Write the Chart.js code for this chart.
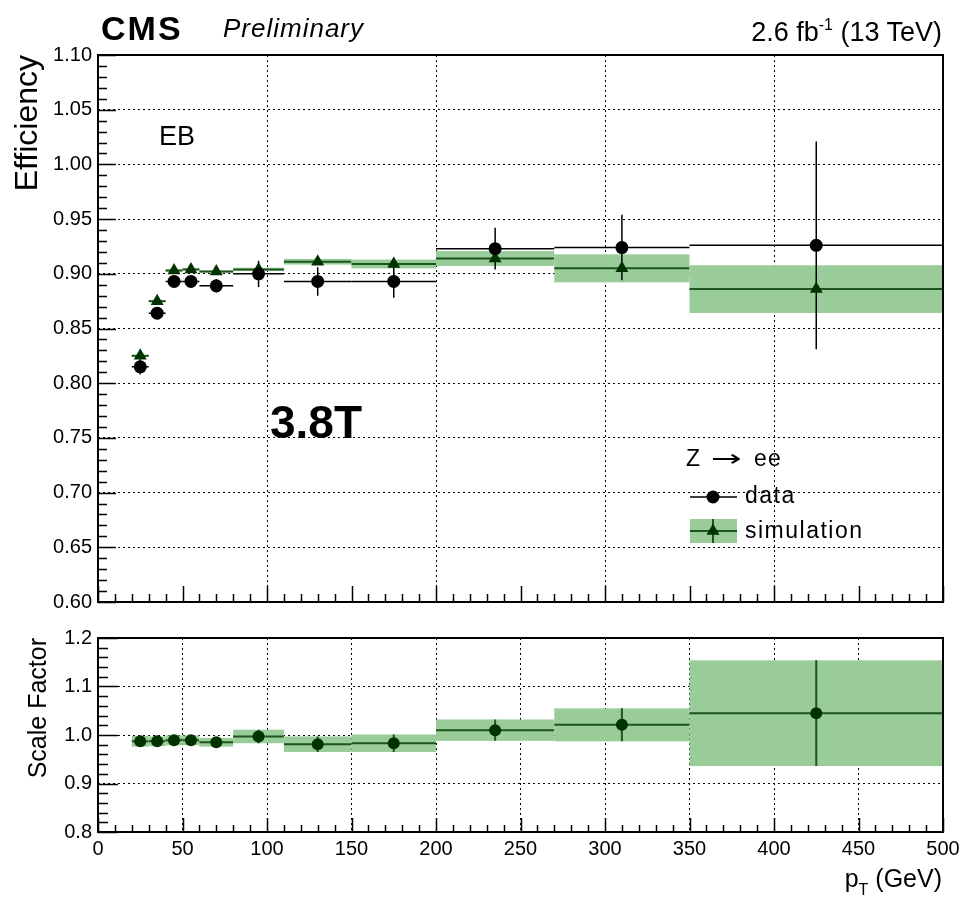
<!DOCTYPE html>
<html>
<head>
<meta charset="utf-8">
<script src="https://cdn.jsdelivr.net/npm/chart.js@4.4.1/dist/chart.umd.min.js"></script>
<style>
  html, body { margin: 0; padding: 0; background: #fff; }
  body { width: 965px; height: 898px; position: relative; overflow: hidden;
         font-family: "Liberation Sans", Arial, sans-serif; }
  #topWrap { position: absolute; left: 0; top: 0; }
  #botWrap { position: absolute; left: 0; top: 620px; }
  .lbl { position: absolute; white-space: nowrap; color: #000; line-height: 1; z-index: 5; }
</style>
</head>
<body>
<div id="topWrap"><canvas id="effChart" width="965" height="620"></canvas></div>
<div id="botWrap"><canvas id="sfChart" width="965" height="278"></canvas></div>

<div class="lbl" style="left:101px; top:11px; font-size:34px; font-weight:bold; letter-spacing:2px;">CMS</div>
<div class="lbl" style="left:223px; top:15px; font-size:26px; font-style:italic; letter-spacing:1px;">Preliminary</div>
<div class="lbl" style="right:23px; top:19px; font-size:27px;">2.6 fb<span style="font-size:16px; position:relative; top:-11px;">-1</span> (13 TeV)</div>
<div class="lbl" style="left:159px; top:123px; font-size:27px;">EB</div>
<div class="lbl" style="left:270px; top:399px; font-size:46px; font-weight:bold;">3.8T</div>
<div class="lbl" style="left:686px; top:447px; font-size:23px; letter-spacing:1px;">Z <span style="font-family:'DejaVu Sans'; font-size:23px; display:inline-block; transform:scaleX(1.6); margin:0 9px;">→</span> ee</div>
<div class="lbl" style="left:745px; top:484px; font-size:23px; letter-spacing:1.5px;">data</div>
<div class="lbl" style="left:745px; top:519px; font-size:23px; letter-spacing:1.5px;">simulation</div>
<div class="lbl" style="right:23px; top:866px; font-size:25px;">p<span style="font-size:16px; position:relative; top:8px;">T</span> (GeV)</div>

<script>
// bins in pT (GeV)
const binLow    = [20, 30, 40, 50, 60, 80, 110, 150, 200, 270, 350];
const binHigh   = [30, 40, 50, 60, 80, 110, 150, 200, 270, 350, 500];
const binCenter = [25, 35, 45, 55, 70, 95, 130, 175, 235, 310, 425];

// efficiency, data
const effData    = [0.815, 0.864, 0.893, 0.893, 0.889, 0.900, 0.893, 0.893, 0.923, 0.924, 0.926];
const effDataErr = [0.007, 0.004, 0.003, 0.003, 0.006, 0.012, 0.013, 0.015, 0.019, 0.030, 0.095];

// efficiency, simulation
const effMC    = [0.825, 0.875, 0.903, 0.904, 0.902, 0.904, 0.911, 0.909, 0.914, 0.905, 0.886];
const effMCErr = [0.001, 0.001, 0.001, 0.001, 0.001, 0.0015, 0.0026, 0.004, 0.0068, 0.0128, 0.0218];

// scale factor data / simulation
const scaleFactor    = [0.987, 0.987, 0.989, 0.989, 0.985, 0.997, 0.981, 0.983, 1.010, 1.021, 1.045];
const scaleFactorErr = [0.011, 0.010, 0.010, 0.010, 0.009, 0.014, 0.016, 0.018, 0.022, 0.034, 0.109];

const bandGreen = "rgb(153, 204, 153)";
const lineGreen = "rgb(30, 85, 30)";
const darkGreen = "rgb(0, 51, 0)";

Chart.defaults.font.family = '"Liberation Sans", Arial, sans-serif';
Chart.defaults.color = "#000";

function points(values) {
    return binCenter.map((c, i) => ({ x: c, y: values[i] }));
}

// what gets drawn per bin for each canvas (kept out of chart options)
const binnedItems = {
    effChart: [
        { values: effMC, errors: effMCErr, fill: bandGreen, color: lineGreen, width: 2, vertical: false },
        { values: effData, errors: effDataErr, fill: null, color: "#000", width: 1.5, vertical: true }
    ],
    sfChart: [
        { values: scaleFactor, errors: scaleFactorErr, fill: bandGreen, color: lineGreen, width: 2, vertical: true }
    ]
};

// draws bands and error bars per bin, through the chart scales
const binnedPlugin = {
    id: "binned",
    beforeDatasetsDraw(chart) {
        const { ctx, chartArea } = chart;
        const x = chart.scales.x;
        const y = chart.scales.y;
        ctx.save();
        ctx.beginPath();
        ctx.rect(chartArea.left, chartArea.top, chartArea.width, chartArea.height);
        ctx.clip();

        binnedItems[chart.canvas.id].forEach(item => {
            item.values.forEach((v, i) => {
                const x0 = x.getPixelForValue(binLow[i]);
                const x1 = x.getPixelForValue(binHigh[i]);
                const xc = x.getPixelForValue(binCenter[i]);
                const yv = y.getPixelForValue(v);
                const yHi = y.getPixelForValue(v + item.errors[i]);
                const yLo = y.getPixelForValue(v - item.errors[i]);

                if (item.fill) {
                    ctx.fillStyle = item.fill;
                    ctx.fillRect(x0, yHi, x1 - x0, yLo - yHi);
                }
                ctx.strokeStyle = item.color;
                ctx.lineWidth = item.width;
                ctx.beginPath();
                ctx.moveTo(x0, yv);
                ctx.lineTo(x1, yv);
                if (item.vertical) {
                    ctx.moveTo(xc, yHi);
                    ctx.lineTo(xc, yLo);
                }
                ctx.stroke();
            });
        });
        ctx.restore();
    }
};

// frame and inward ROOT style ticks
const framePlugin = {
    id: "frame",
    afterDraw(chart, args, opts) {
        const { ctx, chartArea } = chart;
        const x = chart.scales.x;
        const y = chart.scales.y;
        ctx.save();
        ctx.strokeStyle = "#000";
        ctx.lineWidth = 1.5;
        ctx.beginPath();

        const nx = Math.round((x.max - x.min) / opts.xMinor);
        for (let i = 0; i <= nx; i++) {
            const px = Math.round(x.getPixelForValue(x.min + i * opts.xMinor)) + 0.5;
            const len = i % 5 === 0 ? opts.xMajorLen : opts.xMajorLen / 2;
            ctx.moveTo(px, chartArea.bottom);
            ctx.lineTo(px, chartArea.bottom - len);
        }
        const ny = Math.round((y.max - y.min) / opts.yMinor);
        for (let i = 0; i <= ny; i++) {
            const py = Math.round(y.getPixelForValue(y.min + i * opts.yMinor)) + 0.5;
            const len = i % 5 === 0 ? opts.yMajorLen : opts.yMajorLen / 2;
            ctx.moveTo(chartArea.left, py);
            ctx.lineTo(chartArea.left + len, py);
        }
        ctx.stroke();

        ctx.lineWidth = 2;
        ctx.strokeRect(chartArea.left, chartArea.top, chartArea.width, chartArea.height);

        if (opts.legend) {
            // data entry
            ctx.strokeStyle = "#000";
            ctx.lineWidth = 1.5;
            ctx.beginPath();
            ctx.moveTo(690, 497);
            ctx.lineTo(737, 497);
            ctx.stroke();
            ctx.fillStyle = "#000";
            ctx.beginPath();
            ctx.arc(713, 497, 6.5, 0, Math.PI * 2);
            ctx.fill();
            // simulation entry
            ctx.fillStyle = bandGreen;
            ctx.fillRect(690, 519, 47, 24);
            ctx.strokeStyle = lineGreen;
            ctx.lineWidth = 2;
            ctx.beginPath();
            ctx.moveTo(690, 531);
            ctx.lineTo(737, 531);
            ctx.moveTo(713, 519);
            ctx.lineTo(713, 543);
            ctx.stroke();
            ctx.fillStyle = darkGreen;
            ctx.beginPath();
            ctx.moveTo(713, 523.5);
            ctx.lineTo(719.5, 534.75);
            ctx.lineTo(706.5, 534.75);
            ctx.closePath();
            ctx.fill();
        }
        ctx.restore();
    }
};

const gridStyle = { color: "#000", lineWidth: 1, drawTicks: false };
const borderStyle = { display: false, dash: [2, 3] };

new Chart(document.getElementById("effChart"), {
    type: "scatter",
    data: {
        datasets: [
            {
                label: "data",
                data: points(effData),
                pointStyle: "circle",
                pointRadius: 6.5,
                backgroundColor: "#000",
                borderWidth: 0
            },
            {
                label: "simulation",
                data: points(effMC),
                pointStyle: "triangle",
                pointRadius: 7.5,
                backgroundColor: darkGreen,
                borderWidth: 0
            }
        ]
    },
    options: {
        responsive: false,
        animation: false,
        layout: { padding: { left: 0, right: 22, top: 55, bottom: 15 } },
        plugins: {
            legend: { display: false },
            tooltip: { enabled: false },
            frame: { xMinor: 10, xMajorLen: 16, yMinor: 0.01, yMajorLen: 18, legend: true }
        },
        scales: {
            x: {
                type: "linear",
                min: 0,
                max: 500,
                ticks: { display: false, stepSize: 100 },
                grid: gridStyle,
                border: borderStyle,
                afterFit: s => { s.height = 0; }
            },
            y: {
                min: 0.6,
                max: 1.1,
                ticks: {
                    stepSize: 0.05,
                    padding: 6,
                    font: { size: 20 },
                    callback: v => v.toFixed(2)
                },
                grid: gridStyle,
                border: borderStyle,
                title: {
                    display: true,
                    text: "Efficiency",
                    align: "end",
                    font: { size: 32 },
                    padding: { top: 9, bottom: 0 }
                },
                afterFit: s => { s.width = 98; }
            }
        }
    },
    plugins: [binnedPlugin, framePlugin]
});

new Chart(document.getElementById("sfChart"), {
    type: "scatter",
    data: {
        datasets: [
            {
                label: "scale factor",
                data: points(scaleFactor),
                pointStyle: "circle",
                pointRadius: 6,
                backgroundColor: darkGreen,
                borderWidth: 0
            }
        ]
    },
    options: {
        responsive: false,
        animation: false,
        layout: { padding: { left: 0, right: 22, top: 15, bottom: 36 } },
        plugins: {
            legend: { display: false },
            tooltip: { enabled: false },
            frame: { xMinor: 10, xMajorLen: 14, yMinor: 0.02, yMajorLen: 20, legend: false }
        },
        scales: {
            x: {
                type: "linear",
                min: 0,
                max: 500,
                ticks: { stepSize: 50, padding: 5, font: { size: 20 }, maxRotation: 0 },
                grid: gridStyle,
                border: borderStyle,
                afterFit: s => { s.height = 30; }
            },
            y: {
                min: 0.8,
                max: 1.2,
                ticks: {
                    stepSize: 0.1,
                    padding: 6,
                    font: { size: 20 },
                    callback: v => v.toFixed(1)
                },
                grid: gridStyle,
                border: borderStyle,
                title: {
                    display: true,
                    text: "Scale Factor",
                    align: "end",
                    font: { size: 25 },
                    padding: { top: 24, bottom: 0 }
                },
                afterFit: s => { s.width = 98; }
            }
        }
    },
    plugins: [binnedPlugin, framePlugin]
});
</script>
</body>
</html>
